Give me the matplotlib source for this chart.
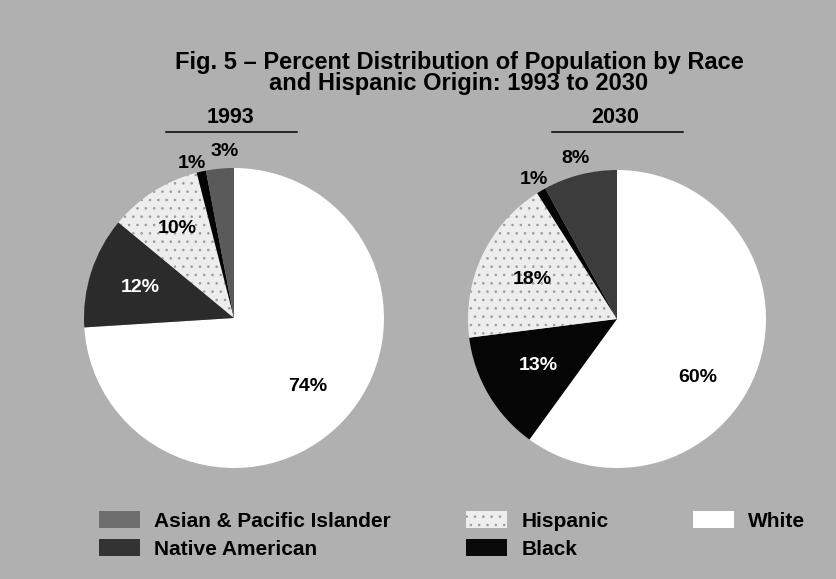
import matplotlib.pyplot as plt
import matplotlib.patches as mpatches
import numpy as np

# Data, slices in clockwise order starting at 12 o'clock
years = ["1993", "2030"]
categories_1993 = ["White", "Black", "Hispanic", "Native American", "Asian & Pacific Islander"]
values_1993 = [74, 12, 10, 1, 3]
categories_2030 = ["White", "Black", "Hispanic", "Native American", "Asian & Pacific Islander"]
values_2030 = [60, 13, 18, 1, 8]

# legend columns, as laid out in the figure
legend_columns = [["Asian & Pacific Islander", "Native American"],
                  ["Hispanic", "Black"],
                  ["White"]]

W, H = 837, 579
BG = "#b0b0b0"
FONT = "Liberation Sans"

# colours as they appear in the scan (per pie)
colors_1993 = ["#ffffff", "#2b2b2b", "#ededed", "#050505", "#5a5a5a"]
colors_2030 = ["#ffffff", "#050505", "#ededed", "#050505", "#3c3c3c"]
legend_colors = {"Asian & Pacific Islander": "#6e6e6e", "Native American": "#333333",
                 "Hispanic": "#eeeeee", "Black": "#0a0a0a", "White": "#ffffff"}
hatches = {"Hispanic": ".."}

# label placement (fraction of radius, angular shift in degrees, text colour)
lab_r_1993 = [0.67, 0.66, 0.71, 1.07, 1.11]
lab_shift_1993 = [0, 0, 0, 2.7, -2.3]
lab_col_1993 = ["black", "white", "black", "black", "black"]
lab_r_2030 = [0.67, 0.61, 0.63, 1.09, 1.11]
lab_shift_2030 = [-18, 0, 0, 0, 0]
lab_col_2030 = ["black", "white", "black", "black", "black"]

plt.rcParams["hatch.color"] = "#999999"
plt.rcParams["hatch.linewidth"] = 0.6

fig = plt.figure(figsize=(W / 100, H / 100), dpi=100, facecolor=BG)


def px_axes(cx, cy, r):
    return fig.add_axes([(cx - r) / W, (H - cy - r) / H, 2 * r / W, 2 * r / H])


def draw_pie(ax, cats, vals, cols, lab_r, lab_shift, lab_col):
    wedges, _ = ax.pie(vals, colors=cols, startangle=90, counterclock=False,
                       wedgeprops=dict(linewidth=0))
    for w, c in zip(wedges, cats):
        if c in hatches:
            w.set_hatch(hatches[c])
    for w, v, r, s, tc in zip(wedges, vals, lab_r, lab_shift, lab_col):
        ang = np.deg2rad((w.theta1 + w.theta2) / 2 + s)
        ax.text(r * np.cos(ang), r * np.sin(ang), f"{v}%", ha="center", va="center",
                fontsize=14, fontweight="bold", color=tc, family=FONT)
    ax.set_xlim(-1, 1)
    ax.set_ylim(-1, 1)
    ax.set_aspect("equal")
    ax.axis("off")


ax1 = px_axes(234, 318, 150)
draw_pie(ax1, categories_1993, values_1993, colors_1993, lab_r_1993, lab_shift_1993, lab_col_1993)
ax2 = px_axes(617, 319, 149)
draw_pie(ax2, categories_2030, values_2030, colors_2030, lab_r_2030, lab_shift_2030, lab_col_2030)

# title (two tight lines)
fig.text(459 / W, 1 - 73 / H,
         "Fig. 5 \u2013 Percent Distribution of Population by Race\nand Hispanic Origin: 1993 to 2030",
         ha="center", va="center", fontsize=17, fontweight="bold", family=FONT,
         linespacing=0.92, multialignment="center")

# year headings with rules underneath
for yr, xc, x0, x1 in [(years[0], 230, 166, 297), (years[1], 615, 552, 683)]:
    fig.text(xc / W, 1 - 117 / H, yr, ha="center", va="center", fontsize=15.5,
             fontweight="bold", family=FONT)
    fig.add_artist(plt.Line2D([x0 / W, x1 / W], [1 - 131.5 / H, 1 - 131.5 / H],
                              color="black", linewidth=1.1))

# legend: one block per column
for col, x_left in zip(legend_columns, [99, 466, 693]):
    handles = [mpatches.Patch(facecolor=legend_colors[c], hatch=hatches.get(c), linewidth=0,
                              label=c) for c in col]
    fig.legend(handles=handles, ncol=1, loc="upper left",
               bbox_to_anchor=(x_left / W, 1 - 511 / H),
               frameon=False, prop=dict(family=FONT, weight="bold", size=15),
               handlelength=1.95, handleheight=0.9, handletextpad=0.7,
               labelspacing=0.38, borderpad=0, borderaxespad=0)

fig.savefig("out.png", dpi=100, facecolor=BG)
